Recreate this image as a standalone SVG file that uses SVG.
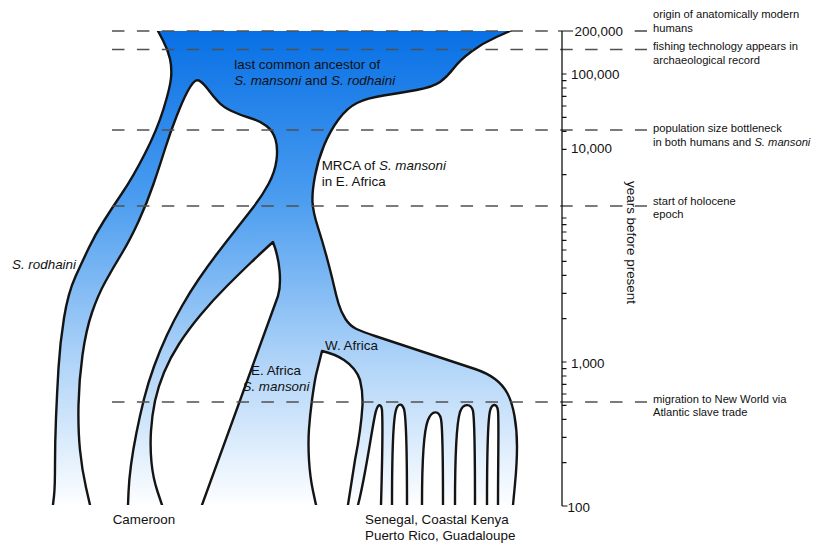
<svg xmlns="http://www.w3.org/2000/svg" width="813" height="543" viewBox="0 0 813 543">
<style>
text { font-family: "Liberation Sans", Arial, Helvetica, sans-serif; fill: #111; }
.lbl { font-size: 13.4px; }
.note { font-size: 11.2px; }
.ax { font-size: 13.4px; }
.it { font-style: italic; }
.dash { stroke: #505050; stroke-width: 1.6; stroke-dasharray: 12.5 12.4; fill: none; }
.tick { stroke: #111; stroke-width: 1.2; fill: none; }
</style>
<defs>
<linearGradient id="blue" gradientUnits="userSpaceOnUse" x1="0" y1="31" x2="0" y2="505">
<stop offset="0" stop-color="#0870e5"/>
<stop offset="0.35" stop-color="#4a9cef"/>
<stop offset="0.7" stop-color="#b0d4f8"/>
<stop offset="1" stop-color="#fdfeff"/>
</linearGradient>
<clipPath id="band"><rect x="0" y="31" width="813" height="474"/></clipPath>
</defs>
<rect width="813" height="543" fill="#fff"/>

<g id="tree" clip-path="url(#band)">
<path fill="url(#blue)" stroke="#141414" stroke-width="2.4" stroke-linejoin="round" stroke-linecap="butt" d="M157,27 L158,31 L163,40.5 Q168,50 170,59 Q172,68 171,78 Q170,88 163.5,109 Q157,130 145,153.5 Q133,177 122.5,192.5 Q112,208 103.5,221.5 Q95,235 89,247.5 Q83,260 75.5,276.5 Q68,293 64,318 Q60,343 58.5,368 Q57,393 56,418 Q55,443 55,465 Q55,487 54,496 L52.6,508
L90.7,508 L90,505 L86,487.5 Q82,470 80,450 Q78,430 78.5,405 Q79,380 82.5,355 Q86,330 92,312.5 Q98,295 105.5,281.5 Q113,268 121.5,254 Q130,240 138.5,221.5 Q147,203 153.5,184 Q160,165 165,149 Q170,133 176.5,116.5 Q183,100 187,92.5 Q191,85 194,82 Q197,79 200.5,81.5 Q204,84 208.5,90 Q213,96 218,101.5 Q223,107 231.5,111 Q240,115 250,118 Q260,121 266.5,126 Q273,131 275.5,139.5 Q278,148 276.5,160 Q275,172 268.5,184 Q262,196 253.5,207 Q245,218 235.5,230 Q226,242 216.5,254.5 Q207,267 198.5,279.5 Q190,292 182,306 Q174,320 167,335 Q160,350 154,366.5 Q148,383 144,399 Q140,415 136.5,432.5 Q133,450 131,465 Q129,480 128.5,492.5 L128,505 L127.9,508
L163,508 L162,505 L157.5,491.5 Q153,478 151.5,462.5 Q150,447 151,431 Q152,415 155,401 Q158,387 164,372.5 Q170,358 179,344 Q188,330 200.5,315 Q213,300 226.5,286.5 Q240,273 251,262.5 Q262,252 267.5,247 L273,242 Q278,255 279.5,270 Q281,286 278,296 L202,505 L200.9,508
L317,508 L316,505 L313,491 Q310,477 309,460 Q308,443 309,429 Q310,415 312,400 Q314,385 316,375 L322,351 Q335,354 344,360 Q356,368 360,380 Q363,392 362.5,405 Q361,430 355,460 L347.5,508
L357.3,508 L358,505 C366,475 373,420 376,411 C378,404 381,403 382,410 C383,425 382,470 381,505 L381,508
L392,508 L392,505 C392,460 393,420 396,410 C398,403 402,403 404,409 C407,420 407,460 407,505 L407,508
L422,508 L422,505 C422,465 424,430 428,420 C432,410 439,410 441,419 C443,430 443,465 443,505 L443,508
L455,508 L455,505 C455,460 456,425 460,412 C463,403 471,403 473,411 C475,422 475,460 475,505 L475,508
L487,508 L487,505 C487,460 488,420 490,411 C492,403 497,403 498,411 C499,420 498,460 498,505 L498,508
L512.8,508 L513,505 L515,484 Q517,463 517,446.5 Q517,430 514.5,416 Q512,402 507.5,393.5 Q503,385 495,379 Q487,373 475,369 L375,336 Q363,332 356.5,329 Q350,326 345.5,319 Q341,312 338.5,303.5 Q336,295 334,286 Q332,277 327.5,260 Q323,243 318,227.5 Q313,212 312.5,202 Q312,192 315,176 Q318,160 324,145.5 Q330,131 338.5,119.5 Q347,108 357,103 Q367,98 383.5,95.5 Q400,93 416.5,90 Q433,87 440,82 Q447,77 453.5,68.5 Q460,60 471.5,51.5 Q483,43 496.5,37 L510,31 L516.7,28 Z"/>
</g>

<g id="time-lines">
<line class="dash" x1="112" y1="31" x2="548" y2="31"/>
<line class="dash" x1="634.7" y1="31" x2="647" y2="31"/>
<line class="dash" x1="112" y1="49.5" x2="647" y2="49.5"/>
<line class="dash" x1="112" y1="130" x2="647" y2="130"/>
<line class="dash" x1="112" y1="206" x2="647" y2="206"/>
<line class="dash" x1="112" y1="402" x2="647" y2="402"/>
</g>

<g id="axis">
<line x1="562" y1="31" x2="562" y2="506" stroke="#111" stroke-width="1.3"/>
<path class="tick" d="M558,31 H573 M562,506 H567.5 M562,74 h4.5 M562,80.6 h4.5 M562,88 h4.5 M562,96.3 h4.5 M562,106 h4.5 M562,117.4 h4.5 M562,131.3 h4.5 M562,149.3 h4.5 M562,174.6 h4.5 M562,218 h4.5 M562,224.6 h4.5 M562,232 h4.5 M562,240.3 h4.5 M562,250 h4.5 M562,261.3 h4.5 M562,275.3 h4.5 M562,293.3 h4.5 M562,318.6 h4.5 M562,362 h4.5 M562,368.6 h4.5 M562,376 h4.5 M562,384.3 h4.5 M562,394 h4.5 M562,405.3 h4.5 M562,419.3 h4.5 M562,437.3 h4.5 M562,462.6 h4.5"/>
<text class="ax" x="574.5" y="35.8">200,000</text>
<text class="ax" x="571" y="78.8">100,000</text>
<text class="ax" x="571" y="152.8">10,000</text>
<text class="ax" x="571" y="367.8">1,000</text>
<text class="ax" x="567.5" y="511.8">100</text>
<text class="ax" transform="translate(627,242.5) rotate(90)" text-anchor="middle" font-size="13.6">years before present</text>
</g>

<g id="events">
<text class="note" x="653" y="17.8">origin of anatomically modern</text>
<text class="note" x="653" y="31.8">humans</text>
<text class="note" x="653" y="50.3">fishing technology appears in</text>
<text class="note" x="653" y="64.3">archaeological record</text>
<text class="note" x="653" y="131.8">population size bottleneck</text>
<text class="note" x="653" y="145.6">in both humans and <tspan class="it">S. mansoni</tspan></text>
<text class="note" x="653" y="205.3">start of holocene</text>
<text class="note" x="653" y="218.3">epoch</text>
<text class="note" x="653" y="402.8">migration to New World via</text>
<text class="note" x="653" y="415.5">Atlantic slave trade</text>
</g>

<g id="labels">
<text class="lbl" x="234.3" y="68.7">last common ancestor of</text>
<text class="lbl" x="234.3" y="84.5"><tspan class="it">S. mansoni</tspan> and <tspan class="it">S. rodhaini</tspan></text>
<text class="lbl" x="321.7" y="170"><tspan>MRCA of </tspan><tspan class="it">S. mansoni</tspan></text>
<text class="lbl" x="321.7" y="186">in E. Africa</text>
<text class="lbl it" x="12" y="268.5">S. rodhaini</text>
<text class="lbl" x="251" y="375">E. Africa</text>
<text class="lbl it" x="242.5" y="391">S. mansoni</text>
<text class="lbl" x="325" y="350">W. Africa</text>
<text class="lbl" x="112.7" y="524">Cameroon</text>
<text class="lbl" x="365" y="524">Senegal, Coastal Kenya</text>
<text class="lbl" x="365" y="540">Puerto Rico, Guadaloupe</text>
</g>
</svg>
